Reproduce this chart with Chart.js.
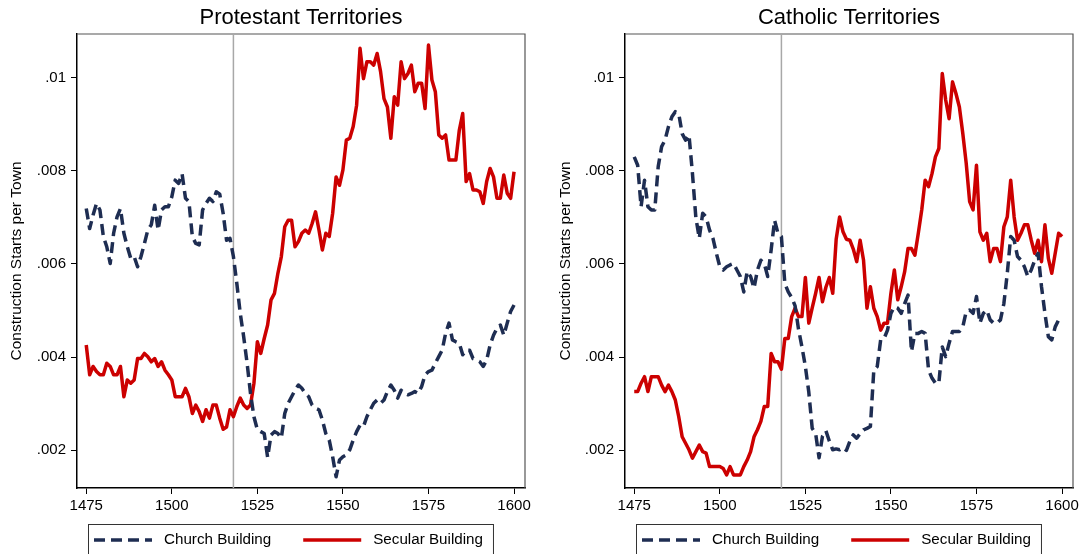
<!DOCTYPE html>
<html lang="en">
<head>
    <meta charset="UTF-8">
    <title>Construction Starts per Town</title>
    <style>
        body { margin: 0; background: #fff; overflow: hidden; }
        canvas { position: absolute; top: 0; }
        #prot { left: 0; }
        #cath { left: 541px; }
    </style>
</head>
<body>
    <canvas id="prot" width="541" height="554"></canvas>
    <canvas id="cath" width="542" height="554"></canvas>

    <script src="https://cdn.jsdelivr.net/npm/chart.js"></script>

    <script>
        // years 1475 .. 1600 (one value per year)
        const years = [];
        for (let y = 1475; y <= 1600; y++) years.push(y);

        const xTicks = [1475, 1500, 1525, 1550, 1575, 1600];
        const yTicks = [.002, .004, .006, .008, .01];
        const yTickLabels = ['.002', '.004', '.006', '.008', '.01'];
        const reformYear = 1518;
        const panelTitles = ['Protestant Territories', 'Catholic Territories'];
        const seriesNames = ['Church Building', 'Secular Building'];

        const protChurch = [
            .00719, .00676, .00705, .00730, .00716, .00659, .00637, .00601, .00666, .00701,
            .00719, .00666, .00637, .00612, .00616, .00594, .00616, .00644, .00673, .00684,
            .00726, .00673, .00716, .00723, .00723, .00744, .00780, .00773, .00794, .00741,
            .00734, .00659, .00644, .00641, .00716, .00730, .00741, .00734, .00755, .00750,
            .00709, .00651, .00655, .00616, .00558, .00494, .00444, .00387, .00322, .00272,
            .00244, .00240, .00236, .00185, .00233, .00240, .00236, .00226, .00279, .00301,
            .00315, .00329, .00340, .00333, .00322, .00315, .00297, .00290, .00287, .00265,
            .00236, .00222, .00186, .00143, .00179, .00186, .00190, .00201, .00222, .00240,
            .00254, .00251, .00272, .00287, .00301, .00308, .00301, .00308, .00326, .00340,
            .00329, .00312, .00329, .00322, .00319, .00322, .00326, .00322, .00337, .00362,
            .00369, .00372, .00387, .00401, .00415, .00451, .00473, .00437, .00433, .00430,
            .00405, .00415, .00415, .00397, .00394, .00390, .00380, .00394, .00426, .00447,
            .00462, .00469, .00447, .00473, .00498, .00512
        ];
        const protSecular = [
            .00426, .00362, .00380, .00369, .00362, .00362, .00387, .00380, .00362, .00362,
            .00380, .00315, .00351, .00344, .00351, .00397, .00397, .00408, .00401, .00390,
            .00397, .00380, .00390, .00372, .00362, .00351, .00315, .00315, .00315, .00333,
            .00315, .00279, .00297, .00283, .00262, .00287, .00269, .00297, .00297, .00269,
            .00245, .00250, .00287, .00272, .00294, .00312, .00297, .00290, .00297, .00344,
            .00433, .00408, .00440, .00469, .00523, .00537, .00580, .00616, .00680, .00694,
            .00694, .00637, .00648, .00666, .00673, .00666, .00687, .00712, .00673, .00630,
            .00666, .00659, .00709, .00787, .00769, .00802, .00866, .00870, .00895, .00941,
            .01063, .00998, .01034, .01034, .01027, .01052, .01013, .00955, .00937, .00870,
            .00959, .00941, .01034, .00998, .01009, .01027, .00970, .00988, .00988, .00934,
            .01070, .00995, .00970, .00877, .00870, .00877, .00823, .00823, .00823, .00887,
            .00923, .00777, .00794, .00759, .00759, .00755, .00730, .00777, .00805, .00787,
            .00741, .00741, .00791, .00752, .00741, .00798
        ];
        const cathChurch = [
            .00830, .00812, .00723, .00780, .00723, .00716, .00716, .00809, .00852, .00866,
            .00895, .00916, .00927, .00923, .00880, .00866, .00877, .00795, .00700, .00655,
            .00709, .00701, .00673, .00655, .00623, .00594, .00587, .00594, .00598, .00601,
            .00587, .00573, .00540, .00584, .00573, .00548, .00587, .00608, .00601, .00573,
            .00630, .00694, .00666, .00659, .00558, .00540, .00528, .00510, .00460, .00422,
            .00380, .00325, .00247, .00236, .00184, .00230, .00242, .00220, .00201, .00203,
            .00201, .00206, .00200, .00219, .00233, .00226, .00236, .00244, .00247, .00251,
            .00372, .00380, .00437, .00440, .00458, .00494, .00508, .00505, .00494, .00515,
            .00533, .00412, .00451, .00451, .00455, .00451, .00372, .00355, .00344, .00344,
            .00422, .00401, .00430, .00455, .00455, .00455, .00465, .00498, .00501, .00494,
            .00530, .00473, .00494, .00501, .00480, .00473, .00473, .00480, .00515, .00580,
            .00659, .00651, .00616, .00608, .00594, .00573, .00587, .00608, .00623, .00551,
            .00494, .00444, .00437, .00465, .00480, .00487
        ];
        const cathSecular = [
            .00326, .00326, .00344, .00358, .00326, .00358, .00358, .00358, .00340, .00326,
            .00340, .00326, .00308, .00272, .00229, .00215, .00201, .00183, .00197, .00211,
            .00197, .00194, .00165, .00165, .00165, .00165, .00161, .00147, .00165, .00147,
            .00147, .00147, .00165, .00179, .00197, .00229, .00244, .00262, .00294, .00294,
            .00408, .00390, .00390, .00374, .00440, .00440, .00487, .00505, .00487, .00487,
            .00571, .00473, .00506, .00537, .00571, .00519, .00550, .00571, .00537, .00653,
            .00701, .00669, .00653, .00651, .00632, .00605, .00651, .00608, .00505, .00551,
            .00505, .00487, .00458, .00473, .00473, .00537, .00587, .00523, .00551, .00583,
            .00633, .00633, .00619, .00666, .00716, .00780, .00766, .00794, .00830, .00848,
            .01009, .00952, .00912, .00991, .00966, .00937, .00880, .00816, .00734, .00716,
            .00812, .00669, .00651, .00666, .00605, .00633, .00633, .00605, .00680, .00701,
            .00780, .00701, .00651, .00666, .00684, .00684, .00651, .00623, .00651, .00605,
            .00684, .00612, .00580, .00623, .00666, .00659
        ];

        const navy = '#1e2d52';
        const red = '#cc0000';
        const fontFamily = '"Liberation Sans", Arial, Helvetica, sans-serif';

        // frame on top / right and the gray reference line
        const framePlugin = {
            id: 'frame',
            beforeDatasetsDraw(chart) {
                const { ctx, chartArea: a, scales } = chart;
                ctx.save();
                ctx.strokeStyle = '#555';
                ctx.lineWidth = 1.2;
                ctx.beginPath();
                ctx.moveTo(a.left, a.top);
                ctx.lineTo(a.right, a.top);
                ctx.lineTo(a.right, a.bottom);
                ctx.stroke();

                const x = scales.x.getPixelForValue(reformYear);
                ctx.strokeStyle = '#a8a8a8';
                ctx.lineWidth = 1.5;
                ctx.beginPath();
                ctx.moveTo(x, a.top);
                ctx.lineTo(x, a.bottom);
                ctx.stroke();
                ctx.restore();
            }
        };

        // legend in a box under the plot
        const boxLegend = {
            id: 'boxLegend',
            afterDraw(chart) {
                const { ctx, chartArea: a } = chart;
                const left = a.left + 11;
                const top = a.bottom + 36;
                const midY = a.bottom + 52;
                ctx.save();
                ctx.font = '15.2px ' + fontFamily;
                ctx.textBaseline = 'middle';
                let x = left + 6;
                chart.data.datasets.forEach((ds, i) => {
                    if (i > 0) x += 32;
                    ctx.strokeStyle = ds.borderColor;
                    ctx.lineWidth = ds.borderWidth;
                    ctx.setLineDash(ds.borderDash || []);
                    ctx.beginPath();
                    ctx.moveTo(x, midY);
                    ctx.lineTo(x + 58, midY);
                    ctx.stroke();
                    ctx.setLineDash([]);
                    x += 70;
                    ctx.fillStyle = '#000';
                    ctx.fillText(ds.label, x, midY);
                    x += ctx.measureText(ds.label).width;
                });
                ctx.strokeStyle = '#333';
                ctx.lineWidth = 1;
                ctx.strokeRect(left + .5, top + .5, x + 10 - left, 60);
                ctx.restore();
            }
        };

        function makePanel(id, title, church, secular, axisWidth, titlePad, padRight) {
            new Chart(document.getElementById(id), {
                type: 'line',
                data: {
                    datasets: [{
                        label: seriesNames[0],
                        data: years.map((yr, i) => ({ x: yr, y: church[i] })),
                        borderColor: navy,
                        borderWidth: 3.5,
                        borderDash: [11, 6],
                        borderJoinStyle: 'round',
                        pointRadius: 0,
                        tension: 0
                    }, {
                        label: seriesNames[1],
                        data: years.map((yr, i) => ({ x: yr, y: secular[i] })),
                        borderColor: red,
                        borderWidth: 3.5,
                        borderJoinStyle: 'round',
                        pointRadius: 0,
                        tension: 0
                    }]
                },
                options: {
                    responsive: false,
                    animation: false,
                    events: [],
                    layout: { padding: { left: 0, right: padRight, top: 0, bottom: 0 } },
                    plugins: {
                        legend: { display: false },
                        tooltip: { enabled: false },
                        title: {
                            display: true,
                            text: title,
                            fullSize: false,
                            color: '#000',
                            font: { family: fontFamily, size: 22, weight: 'normal', lineHeight: 1.2 },
                            padding: { top: 4.5, bottom: 3.1 }
                        }
                    },
                    scales: {
                        x: {
                            type: 'linear',
                            min: 1472.3,
                            max: 1603.2,
                            afterFit: s => { s.height = 66; },
                            afterBuildTicks: s => { s.ticks = xTicks.map(v => ({ value: v })); },
                            border: { color: '#000', width: 1.5 },
                            grid: { drawOnChartArea: false, drawTicks: true, tickLength: 6, color: '#000' },
                            ticks: {
                                color: '#000',
                                padding: 3,
                                maxRotation: 0,
                                font: { family: fontFamily, size: 15 },
                                callback: v => String(v)
                            }
                        },
                        y: {
                            min: .00119,
                            max: .010938,
                            afterFit: s => { s.width = axisWidth; },
                            afterBuildTicks: s => { s.ticks = yTicks.map(v => ({ value: v })); },
                            border: { color: '#000', width: 1.5 },
                            grid: { drawOnChartArea: false, drawTicks: true, tickLength: 6, color: '#000' },
                            ticks: {
                                color: '#000',
                                padding: 5,
                                font: { family: fontFamily, size: 15 },
                                callback: v => yTickLabels[yTicks.findIndex(t => Math.abs(t - v) < 1e-9)]
                            },
                            title: {
                                display: true,
                                text: 'Construction Starts per Town',
                                color: '#000',
                                font: { family: fontFamily, size: 15.5 },
                                padding: { top: titlePad, bottom: 0 }
                            }
                        }
                    }
                },
                plugins: [framePlugin, boxLegend]
            });
        }

        makePanel('prot', panelTitles[0], protChurch, protSecular, 77, 7.7, 16);
        makePanel('cath', panelTitles[1], cathChurch, cathSecular, 84, 15.7, 10);
    </script>
</body>
</html>
